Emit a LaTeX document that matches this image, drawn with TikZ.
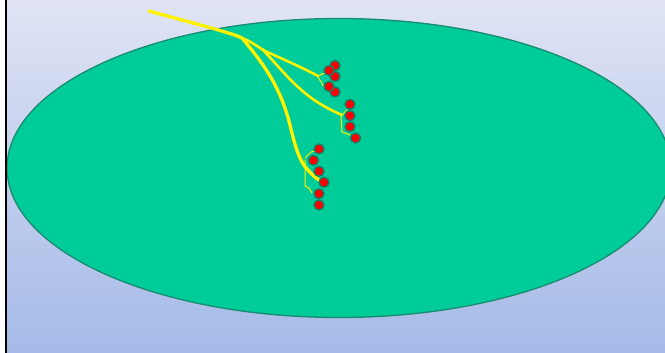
\documentclass[tikz,border=0pt]{standalone}
\definecolor{bgtop}{RGB}{224,228,245}
\definecolor{bgbot}{RGB}{165,186,231}
\definecolor{ellfill}{RGB}{0,204,153}
\definecolor{elledge}{RGB}{25,140,112}
\definecolor{dotedge}{RGB}{20,130,105}
\begin{document}
\begin{tikzpicture}[x=1pt,y=-1pt,
  dot/.style={circle,fill=red,draw=dotedge,line width=1.4pt,minimum size=10pt,inner sep=0pt},
  thickroot/.style={draw=yellow,line width=3.3pt,line cap=round,line join=round},
  midroot/.style={draw=yellow,line width=2.6pt,line cap=round,line join=round},
  thinroot/.style={draw=yellow,line width=1pt,line cap=round,line join=round}]
\useasboundingbox (0,0) rectangle (665,353);
\fill[white] (0,0) rectangle (665,353);
\shade[top color=bgtop,bottom color=bgbot] (6,0) rectangle (665,353);
\draw[black,line width=2pt] (6,0) -- (6,353);
\begin{scope}
\clip (7,0) rectangle (665,353);
\filldraw[fill=ellfill,draw=elledge,line width=1.3pt] (339,168) ellipse [x radius=332, y radius=149.5];
\end{scope}
% roots
\draw[thickroot] (149,11) -- (215,29) .. controls (232,34) and (238,36) .. (242,38);
\draw[thickroot] (242,38) .. controls (262,62) and (280,85) .. (290,125) .. controls (296,150) and (300,162) .. (308,170) .. controls (314,177) and (318,180) .. (323,182);
\draw[midroot] (242,38) .. controls (250,41) and (255,45) .. (265,51) .. controls (285,60) and (303,68) .. (318,76);
\draw[midroot] (262,49) .. controls (275,62) and (290,82) .. (310,97) .. controls (322,106) and (333,111) .. (342,115);
% thin branches
\draw[thinroot] (318,76) -- (327,72);
\draw[thinroot] (318,77) -- (324,87);
\draw[thinroot] (342,115) -- (347,110);
\draw[thinroot] (341,116) -- (342,132) -- (350,135);
\draw[thinroot] (305,158) -- (311,152) -- (316,151);
\draw[thinroot] (305,160) -- (305,186) -- (309,188) -- (312,193);
% dots
\node[dot] (d1) at (335,65.5) {};
\node[dot] (d2) at (335,76.5) {};
\node[dot] (d3) at (329,70.5) {};
\node[dot] (d4) at (335,92) {};
\node[dot] (d5) at (329,86.5) {};
\node[dot] (d6) at (350,104.3) {};
\node[dot] (d7) at (350,115.7) {};
\node[dot] (d8) at (350,126.7) {};
\node[dot] (d9) at (355.5,138) {};
\node[dot] (d10) at (319,149) {};
\node[dot] (d11) at (313.5,160.3) {};
\node[dot] (d12) at (319,171.3) {};
\node[dot] (d13) at (324,182.3) {};
\node[dot] (d14) at (319,193.7) {};
\node[dot] (d15) at (319,205) {};
\end{tikzpicture}
\end{document}
